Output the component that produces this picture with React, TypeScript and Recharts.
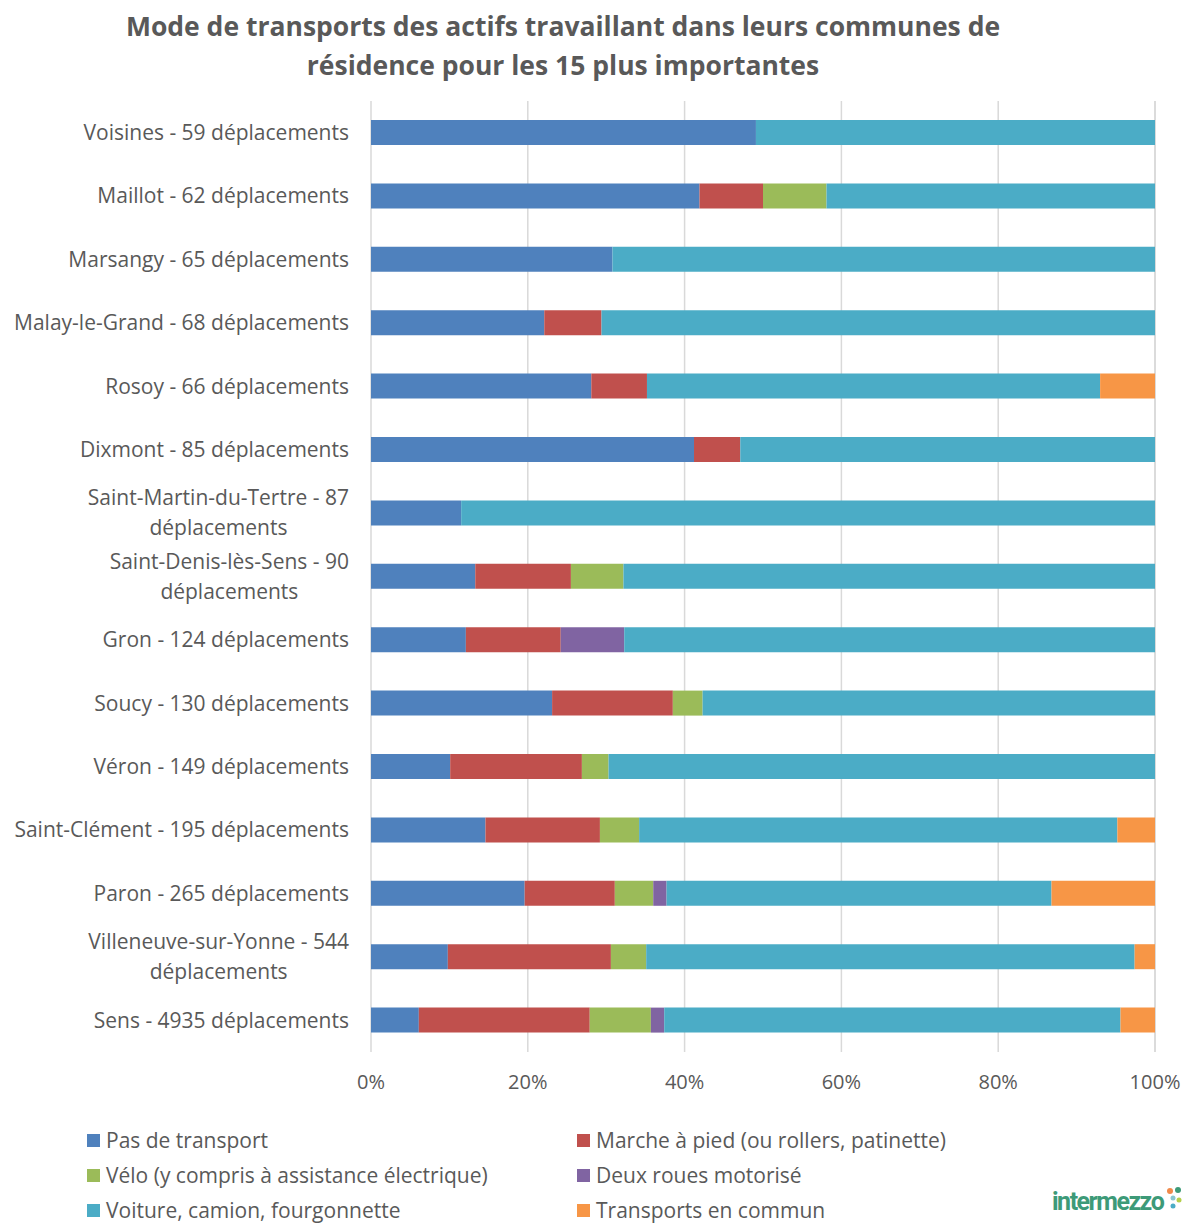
import React from "react";
import {
  BarChart,
  Bar,
  XAxis,
  YAxis,
  CartesianGrid,
} from "recharts";

// communes, top to bottom; "\n" marks where the label wraps
const communes = [
  "Voisines - 59 déplacements",
  "Maillot - 62 déplacements",
  "Marsangy - 65 déplacements",
  "Malay-le-Grand - 68 déplacements",
  "Rosoy - 66 déplacements",
  "Dixmont - 85 déplacements",
  "Saint-Martin-du-Tertre - 87\ndéplacements",
  "Saint-Denis-lès-Sens - 90\ndéplacements",
  "Gron - 124 déplacements",
  "Soucy - 130 déplacements",
  "Véron - 149 déplacements",
  "Saint-Clément - 195 déplacements",
  "Paron - 265 déplacements",
  "Villeneuve-sur-Yonne - 544\ndéplacements",
  "Sens - 4935 déplacements",
];

// shares in %
const pasDeTransport = [49.1, 41.9, 30.8, 22.1, 28.1, 41.2, 11.5, 13.3, 12.1, 23.1, 10.1, 14.6, 19.6, 9.8, 6.1];
const marche = [0, 8.1, 0, 7.3, 7.1, 5.9, 0, 12.2, 12.1, 15.4, 16.8, 14.6, 11.5, 20.8, 21.8];
const velo = [0, 8.1, 0, 0, 0, 0, 0, 6.7, 0, 3.8, 3.4, 5.0, 4.9, 4.5, 7.8];
const deuxRoues = [0, 0, 0, 0, 0, 0, 0, 0, 8.1, 0, 0, 0, 1.7, 0, 1.7];
const voiture = [50.9, 41.9, 69.2, 70.6, 57.8, 52.9, 88.5, 67.8, 67.7, 57.7, 69.7, 61.0, 49.1, 62.3, 58.2];
const transportsCommun = [0, 0, 0, 0, 7.0, 0, 0, 0, 0, 0, 0, 4.8, 13.2, 2.6, 4.4];

const xTicks = [0, 20, 40, 60, 80, 100];

const series = [
  { key: "pas", name: "Pas de transport", color: "#4F81BD", values: pasDeTransport },
  { key: "marche", name: "Marche à pied (ou rollers, patinette)", color: "#C0504D", values: marche },
  { key: "velo", name: "Vélo (y compris à assistance électrique)", color: "#9BBB59", values: velo },
  { key: "deux", name: "Deux roues motorisé", color: "#8064A2", values: deuxRoues },
  { key: "voiture", name: "Voiture, camion, fourgonnette", color: "#4BACC6", values: voiture },
  { key: "tc", name: "Transports en commun", color: "#F79646", values: transportsCommun },
];

const data = communes.map((c, i) => {
  const row: Record<string, string | number> = { commune: c };
  series.forEach((s) => (row[s.key] = s.values[i]));
  return row;
});

const FONT = '"Open Sans", sans-serif';
const TEXT = "#595959";
const LABEL_SIZE = 21;

let ctx: CanvasRenderingContext2D | null = null;
function measure(s: string) {
  if (!ctx) ctx = document.createElement("canvas").getContext("2d");
  if (!ctx) return s.length * 11;
  ctx.font = `${LABEL_SIZE}px "Open Sans"`;
  return ctx.measureText(s).width;
}

function CommuneTick(props: any) {
  const { x, y, payload } = props;
  const lines: string[] = String(payload.value).split("\n");
  if (lines.length === 1) {
    return (
      <text x={x} y={y} dy="0.35em" textAnchor="end" fill={TEXT} fontSize={LABEL_SIZE} fontFamily={FONT}>
        {lines[0]}
      </text>
    );
  }
  const cx = x - measure(lines[0]) / 2;
  return (
    <text textAnchor="middle" fill={TEXT} fontSize={LABEL_SIZE} fontFamily={FONT}>
      <tspan x={cx} y={y - 15} dy="0.35em">{lines[0]}</tspan>
      <tspan x={cx} y={y + 15} dy="0.35em">{lines[1]}</tspan>
    </text>
  );
}

export default function App() {
  return (
    <div style={{ position: "absolute", left: 0, top: 0, width: 1186, height: 1223, background: "#fff" }}>
      <div
        style={{
          position: "absolute",
          left: 63,
          width: 1000,
          top: 7,
          textAlign: "center",
          fontFamily: FONT,
          fontWeight: 700,
          fontSize: 26.5,
          lineHeight: "39px",
          color: TEXT,
        }}
      >
        Mode de transports des actifs travaillant dans leurs communes de
        <br />
        résidence pour les 15 plus importantes
      </div>

      <div style={{ position: "absolute", left: 0, top: 0 }}>
        <BarChart
          width={1186}
          height={1110}
          data={data}
          layout="vertical"
          margin={{ top: 101, right: 31, left: 0, bottom: 18 }}
          barSize={25}
        >
          <CartesianGrid horizontal={false} stroke="#d9d9d9" strokeWidth={1.5} />
          <XAxis
            type="number"
            domain={[0, 100]}
            ticks={xTicks}
            tickFormatter={(v) => `${v}%`}
            axisLine={false}
            tickLine={false}
            tickMargin={17}
            height={40}
            tick={{ fontSize: 20, fill: TEXT, fontFamily: FONT }}
          />
          <YAxis
            type="category"
            dataKey="commune"
            width={371}
            axisLine={false}
            tickLine={false}
            tickMargin={16}
            interval={0}
            tick={<CommuneTick />}
          />
          {series.map((s) => (
            <Bar
              key={s.key}
              dataKey={s.key}
              name={s.name}
              stackId="a"
              fill={s.color}
              isAnimationActive={false}
            />
          ))}
        </BarChart>
      </div>

      {series.map((s, i) => {
        const col = i % 2;
        const row = Math.floor(i / 2);
        return (
          <div
            key={s.key}
            style={{
              position: "absolute",
              left: col === 0 ? 87 : 577,
              top: 1140 + row * 35 - 14,
              height: 28,
              display: "flex",
              alignItems: "center",
              fontFamily: FONT,
              fontSize: 21,
              color: TEXT,
              whiteSpace: "nowrap",
            }}
          >
            <span style={{ width: 13, height: 13, background: s.color, marginRight: 6, display: "inline-block" }} />
            {s.name}
          </div>
        );
      })}

      <div
        style={{
          position: "absolute",
          left: 1052,
          top: 1188,
          fontFamily: "Roboto, sans-serif",
          fontWeight: 700,
          fontSize: 25,
          letterSpacing: -1.5,
          color: "#3d9a78",
          lineHeight: "28px",
        }}
      >
        intermezzo
      </div>
      <svg style={{ position: "absolute", left: 1164, top: 1186 }} width={20} height={28}>
        <circle cx={6} cy={5} r={3} fill="#f08a4b" />
        <circle cx={14} cy={4} r={3} fill="#3d9a78" />
        <circle cx={9} cy={12} r={2.5} fill="#8ac6d0" />
        <circle cx={15} cy={14} r={2.5} fill="#b5cf4b" />
        <circle cx={9} cy={20} r={2.5} fill="#4bacc6" />
      </svg>
    </div>
  );
}
